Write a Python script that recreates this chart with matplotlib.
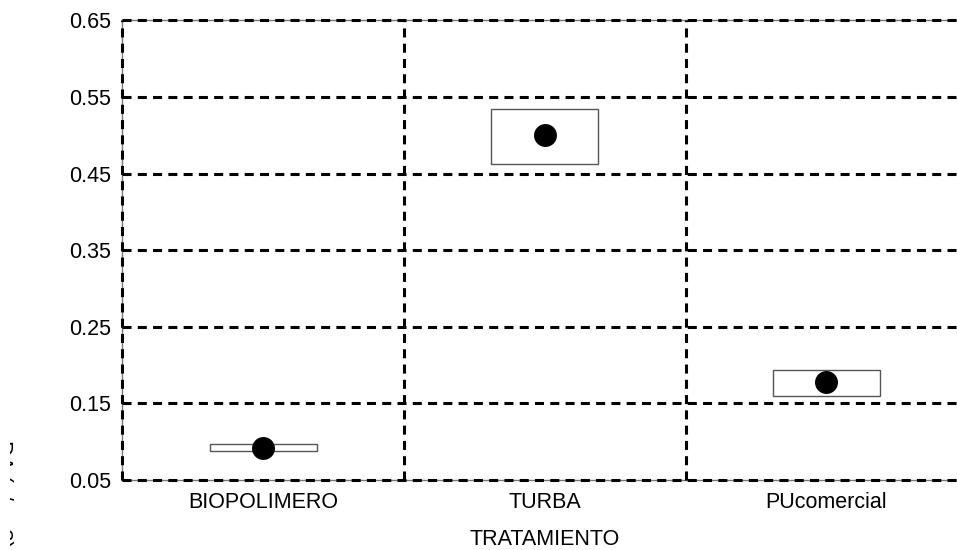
import matplotlib
matplotlib.use('Agg')
import matplotlib.pyplot as plt
from matplotlib.patches import Rectangle
import numpy as np

categories = ['BIOPOLIMERO', 'TURBA', 'PUcomercial']
means = [0.0923, 0.501, 0.1777]
box_low = [0.0872, 0.4627, 0.160]
box_high = [0.0976, 0.5346, 0.1938]
yticks = [0.05, 0.15, 0.25, 0.35, 0.45, 0.55, 0.65]

plt.rcParams['font.family'] = ['Liberation Sans', 'DejaVu Sans']
plt.rcParams['lines.scale_dashes'] = False


def main():
    fig = plt.figure(figsize=(9.57, 5.5), dpi=100)
    ax = fig.add_axes([0.128, 0.1273, 0.8825, 0.8355])

    x = np.arange(1, len(categories) + 1)
    heights = np.array(box_high) - np.array(box_low)
    ax.bar(x, heights, bottom=box_low, width=0.38, facecolor='white',
           edgecolor='#555555', linewidth=1.0, zorder=2)
    ax.plot(x, means, 'o', color='black', markersize=15.5, zorder=3)

    ax.set_xlim(0.5, 3.5)
    ax.set_ylim(0.05, 0.65)
    ax.set_xticks(x)
    ax.set_xticklabels(categories)
    ax.set_xticks([0.5, 1.5, 2.5, 3.5], minor=True)
    ax.set_yticks(yticks)
    ax.set_yticklabels([f'{v:.2f}' for v in yticks])

    ax.tick_params(axis='both', which='both', length=0, labelsize=15.5)
    ax.tick_params(axis='y', pad=8)
    ax.tick_params(axis='x', pad=9)

    grid_kw = dict(color='black', linewidth=2.2, linestyle=(0, (6.5, 4.5)),
                   clip_on=False, zorder=1)
    ax.yaxis.grid(True, which='major', **grid_kw)
    ax.xaxis.grid(True, which='minor', **grid_kw)
    ax.xaxis.grid(False, which='major')
    ax.set_axisbelow(False)

    for sp in ax.spines.values():
        sp.set_color('#777777')
        sp.set_linewidth(1.0)
        sp.set_zorder(0.5)

    ax.set_xlabel('TRATAMIENTO', fontsize=15.5, labelpad=11)

    # y label: only the tops of the letters are left at the left edge
    fig.text(-2.5 / 957, 0.2, 'DA (g/cm3)', rotation=270,
             rotation_mode='anchor', ha='left', va='baseline', fontsize=15.5)
    mask = Rectangle((0, 0), 9.5 / 957, 1, transform=fig.transFigure,
                     facecolor='white', edgecolor='none', zorder=10)
    fig.add_artist(mask)

    fig.savefig('out.png', dpi=100)


if __name__ == "__main__":
    main()
